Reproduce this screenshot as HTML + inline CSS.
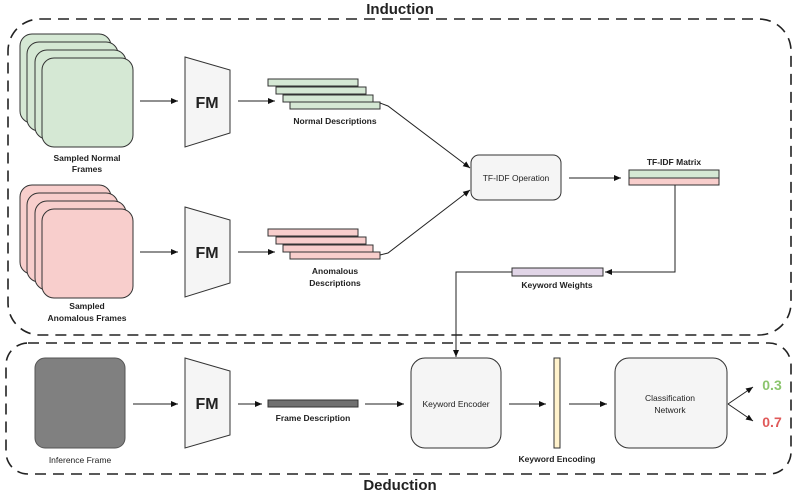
<!DOCTYPE html>
<html><head><style>body{margin:0;background:#fff}svg{display:block}text{font-family:"Liberation Sans",sans-serif;fill:#222}</style></head><body>
<svg width="800" height="493" viewBox="0 0 800 493" xmlns="http://www.w3.org/2000/svg">
<defs><marker id="a" markerWidth="8" markerHeight="8" refX="7" refY="4" orient="auto" markerUnits="userSpaceOnUse"><path d="M0,1 L7,4 L0,7 Z" fill="#111"/></marker></defs>
<g fill="none" stroke="#222" stroke-width="1.6" stroke-dasharray="11,7">
<rect x="8" y="19" width="783" height="316" rx="32"/>
<rect x="6" y="343" width="785" height="131" rx="22"/>
</g>
<text x="400" y="14" font-size="15" font-weight="bold" text-anchor="middle">Induction</text>
<text x="400" y="490" font-size="15" font-weight="bold" text-anchor="middle">Deduction</text>
<g stroke="#333" stroke-width="1" fill="#d5e8d4">
<rect x="20" y="34" width="91" height="89" rx="12"/><rect x="27" y="42" width="91" height="89" rx="12"/><rect x="35" y="50" width="91" height="89" rx="12"/><rect x="42" y="58" width="91" height="89" rx="12"/>
</g>
<g stroke="#333" stroke-width="1" fill="#f8cecc">
<rect x="20" y="185" width="91" height="89" rx="12"/><rect x="27" y="193" width="91" height="89" rx="12"/><rect x="35" y="201" width="91" height="89" rx="12"/><rect x="42" y="209" width="91" height="89" rx="12"/>
</g>
<g font-size="8.5" font-weight="bold" text-anchor="middle">
<text x="87" y="161">Sampled Normal</text><text x="87" y="172">Frames</text>
<text x="87" y="309">Sampled</text><text x="87" y="321">Anomalous Frames</text>
<text x="335" y="124">Normal Descriptions</text>
<text x="335" y="274">Anomalous</text><text x="335" y="286">Descriptions</text>
<text x="674" y="165">TF-IDF Matrix</text>
<text x="557" y="288">Keyword Weights</text>
<text x="313" y="421">Frame Description</text>
<text x="557" y="462">Keyword Encoding</text>
</g>
<g stroke="#333" stroke-width="1" fill="#f5f5f5">
<path d="M185,57 L230,70 L230,133 L185,147 Z"/>
<path d="M185,207 L230,220 L230,283 L185,297 Z"/>
<path d="M185,358 L230,371 L230,435 L185,448 Z"/>
<rect x="471" y="155" width="90" height="45" rx="8"/>
<rect x="411" y="358" width="90" height="90" rx="14"/>
<rect x="615" y="358" width="112" height="90" rx="14"/>
</g>
<g font-size="16" font-weight="bold" text-anchor="middle">
<text x="207" y="108">FM</text><text x="207" y="258">FM</text><text x="207" y="409">FM</text>
</g>
<g stroke="#333" stroke-width="1" fill="#d5e8d4">
<rect x="268" y="79" width="90" height="7"/><rect x="276" y="87" width="90" height="7"/><rect x="283" y="95" width="90" height="7"/><rect x="290" y="102" width="90" height="7"/>
<rect x="629" y="170" width="90" height="8"/>
</g>
<g stroke="#333" stroke-width="1" fill="#f8cecc">
<rect x="268" y="229" width="90" height="7"/><rect x="276" y="237" width="90" height="7"/><rect x="283" y="245" width="90" height="7"/><rect x="290" y="252" width="90" height="7"/>
<rect x="629" y="178" width="90" height="7"/>
</g>
<rect x="512" y="268" width="91" height="8" fill="#e1d5e7" stroke="#333"/>
<rect x="268" y="400" width="90" height="7" fill="#707070" stroke="#333"/>
<rect x="554" y="358" width="6" height="90" fill="#fff2cc" stroke="#333"/>
<rect x="35" y="358" width="90" height="90" rx="10" fill="#808080" stroke="#555"/>
<g font-size="8.5" text-anchor="middle" fill="#333">
<text x="516" y="181">TF-IDF Operation</text>
<text x="456" y="407">Keyword Encoder</text>
<text x="670" y="401">Classification</text><text x="670" y="413">Network</text>
<text x="80" y="463">Inference Frame</text>
</g>
<g stroke="#222" stroke-width="1" fill="none" marker-end="url(#a)">
<line x1="140" y1="101" x2="178" y2="101"/><line x1="238" y1="101" x2="275" y2="101"/>
<line x1="140" y1="252" x2="178" y2="252"/><line x1="238" y1="252" x2="275" y2="252"/>
<polyline points="380,103 388,106 470,168"/>
<polyline points="380,255 388,253 470,190"/>
<line x1="569" y1="178" x2="621" y2="178"/>
<polyline points="675,185 675,272 605,272"/>
<polyline points="512,272 456,272 456,357"/>
<line x1="133" y1="404" x2="178" y2="404"/><line x1="238" y1="404" x2="262" y2="404"/>
<line x1="365" y1="404" x2="404" y2="404"/><line x1="509" y1="404" x2="546" y2="404"/>
<line x1="569" y1="404" x2="607" y2="404"/>
<line x1="728" y1="404" x2="753" y2="387"/><line x1="728" y1="404" x2="753" y2="421"/>
</g>
<text x="772" y="390" font-size="14" font-weight="bold" text-anchor="middle" style="fill:#8cc56e">0.3</text>
<text x="772" y="427" font-size="14" font-weight="bold" text-anchor="middle" style="fill:#e05a5a">0.7</text>
</svg>
</body></html>
